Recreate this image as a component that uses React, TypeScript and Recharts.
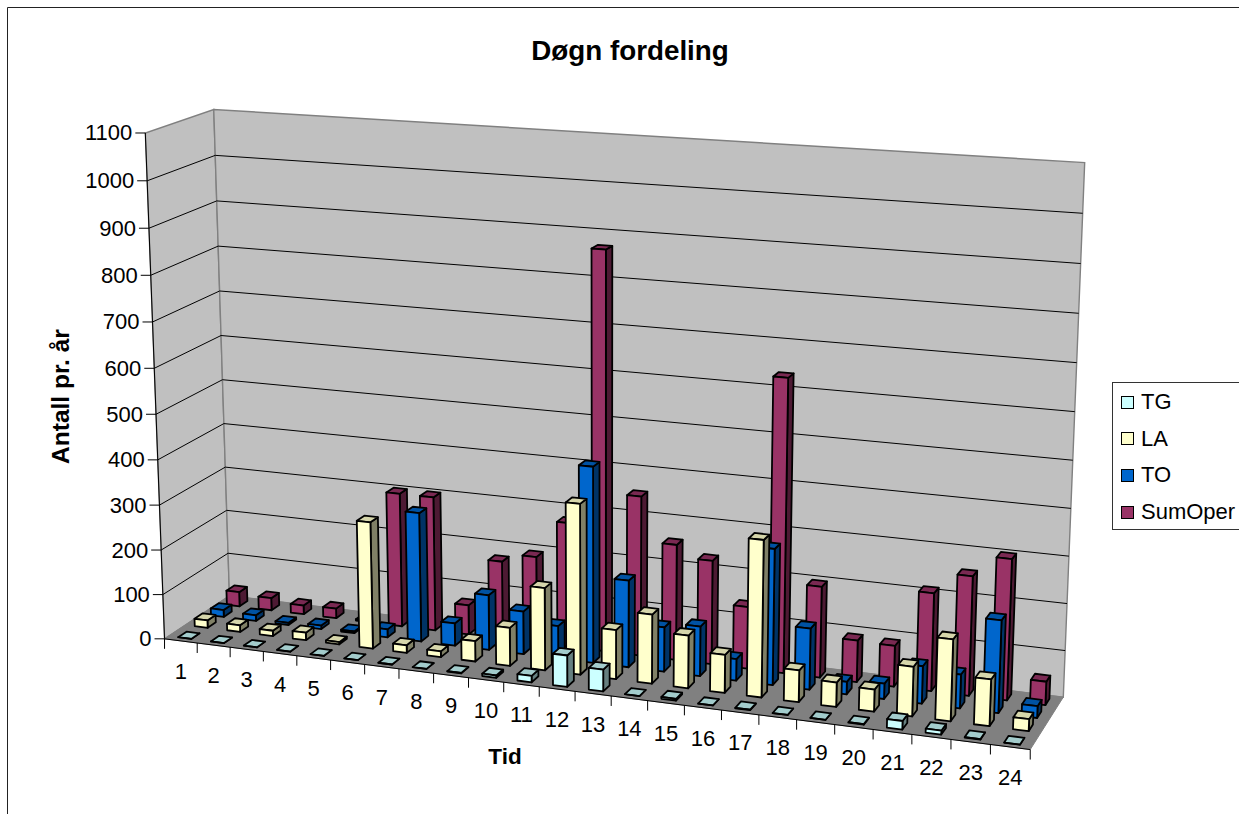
import React from 'react';
import { BarChart, Bar, XAxis, YAxis, Legend, Customized } from 'recharts';

const hours = ['1', '2', '3', '4', '5', '6', '7', '8', '9', '10', '11', '12', '13', '14', '15', '16', '17', '18', '19', '20', '21', '22', '23', '24'];
const tgValues = [0, 0, 0, 0, 0, 0, 0, 0, 1, 5, 14, 68, 47, 0, 4, 0, 1, 0, 0, 1, 18, 8, 1, 0];
const laValues = [17, 15, 12, 17, 5, 281, 17, 13, 45, 84, 180, 370, 107, 150, 114, 82, 335, 68, 52, 47, 105, 172, 98, 25];
const toValues = [16, 13, 5, 8, 4, 18, 287, 50, 122, 95, 72, 428, 190, 97, 108, 47, 293, 132, 27, 33, 80, 72, 196, 25];
const sumOperValues = [33, 28, 20, 22, 3, 300, 300, 66, 173, 192, 275, 870, 350, 253, 227, 135, 633, 197, 90, 88, 210, 255, 300, 50];
const yTicks = [0, 100, 200, 300, 400, 500, 600, 700, 800, 900, 1000, 1100];
const legendOrder = ['TG', 'LA', 'TO', 'SumOper'];

const chartData = hours.map((hour, i) => ({
  hour,
  TG: tgValues[i],
  LA: laValues[i],
  TO: toValues[i],
  SumOper: sumOperValues[i]
}));

const WIDTH = 1239;
const HEIGHT = 814;
const MAX_Y = 1100;
const FONT = '"Liberation Sans", Arial, sans-serif';
const BAR_SIZE = (WIDTH / 24) * 0.4;
const ROW_DEPTH = 0.125;

// wall corners on screen, as [u, v, w, screenX, screenY]
const CORNERS = [
  [0, 0, 0, 164.7, 638.7],
  [1, 0, 0, 1030, 750],
  [0, 1, 0, 229.3, 596],
  [1, 1, 0, 1063.5, 696.7],
  [0, 0, 1, 145.4, 132.7],
  [0, 1, 1, 213.7, 109.7],
  [1, 1, 1, 1084.7, 162.7]
];

// least squares fit of a 3x4 camera matrix with the last entry fixed at 1
function fitCamera(points: number[][]) {
  const rows: number[][] = [];
  const rhs: number[] = [];
  points.forEach(([u, v, w, sx, sy]) => {
    rows.push([u, v, w, 1, 0, 0, 0, 0, -sx * u, -sx * v, -sx * w]);
    rhs.push(sx);
    rows.push([0, 0, 0, 0, u, v, w, 1, -sy * u, -sy * v, -sy * w]);
    rhs.push(sy);
  });
  const n = 11;
  const m: number[][] = [];
  for (let i = 0; i < n; i++) {
    const line: number[] = [];
    for (let j = 0; j < n; j++) {
      line.push(rows.reduce((s, r) => s + r[i] * r[j], 0));
    }
    line.push(rows.reduce((s, r, k) => s + r[i] * rhs[k], 0));
    m.push(line);
  }
  for (let i = 0; i < n; i++) {
    let pivot = i;
    for (let k = i + 1; k < n; k++) {
      if (Math.abs(m[k][i]) > Math.abs(m[pivot][i])) pivot = k;
    }
    [m[i], m[pivot]] = [m[pivot], m[i]];
    for (let k = 0; k < n; k++) {
      if (k === i) continue;
      const f = m[k][i] / m[i][i];
      for (let j = i; j <= n; j++) m[k][j] -= f * m[i][j];
    }
  }
  return m.map((line, i) => line[n] / line[i]);
}

const CAM = fitCamera(CORNERS);

function project(u: number, v: number, w: number): [number, number] {
  const d = CAM[8] * u + CAM[9] * v + CAM[10] * w + 1;
  return [
    (CAM[0] * u + CAM[1] * v + CAM[2] * w + CAM[3]) / d,
    (CAM[4] * u + CAM[5] * v + CAM[6] * w + CAM[7]) / d
  ];
}

const poly = (pts: [number, number][]) => pts.map((p) => `${p[0].toFixed(2)},${p[1].toFixed(2)}`).join(' ');

// Bar gets a flat rectangle from the chart scales; it is lifted into the 3D box here
function makeBox(row: number, front: string, top: string, side: string) {
  return function Box3D(props: any) {
    const { x, y, width, height } = props;
    const u0 = x / WIDTH;
    const u1 = (x + width) / WIDTH;
    const w0 = 1 - (y + height) / HEIGHT;
    const w1 = 1 - y / HEIGHT;
    const v0 = (row + 0.5) / 4 - ROW_DEPTH / 2;
    const v1 = v0 + ROW_DEPTH;
    return (
      <g stroke="#000" strokeWidth={1.8} strokeLinejoin="round">
        <polygon points={poly([project(u1, v0, w0), project(u1, v1, w0), project(u1, v1, w1), project(u1, v0, w1)])} fill={side} />
        <polygon points={poly([project(u0, v0, w1), project(u1, v0, w1), project(u1, v1, w1), project(u0, v1, w1)])} fill={top} />
        <polygon points={poly([project(u0, v0, w0), project(u1, v0, w0), project(u1, v0, w1), project(u0, v0, w1)])} fill={front} />
      </g>
    );
  };
}

function Backdrop() {
  const wall = '#C0C0C0';
  const edge = '#808080';
  return (
    <g>
      <path d="M7.5 814V7.5H1239" fill="none" stroke="#222" strokeWidth={1} />
      <polygon points={poly([project(0, 0, 0), project(0, 1, 0), project(0, 1, 1), project(0, 0, 1)])} fill={wall} stroke={edge} strokeWidth={1.4} />
      <polygon points={poly([project(0, 1, 0), project(1, 1, 0), project(1, 1, 1), project(0, 1, 1)])} fill={wall} stroke={edge} strokeWidth={1.4} />
      <polygon points={poly([project(0, 0, 0), project(1, 0, 0), project(1, 1, 0), project(0, 1, 0)])} fill={edge} stroke={edge} />
      {yTicks.slice(1, -1).map((t) => {
        const w = t / MAX_Y;
        const a = project(0, 0, w);
        const b = project(0, 1, w);
        const c = project(1, 1, w);
        return <polyline key={t} points={poly([a, b, c])} fill="none" stroke="#000" strokeWidth={1} />;
      })}
      {(() => {
        const a = project(0, 0, 0);
        const b = project(1, 0, 0);
        const c = project(0, 0, 1);
        return (
          <g stroke="#000" strokeWidth={1}>
            <line x1={a[0]} y1={a[1]} x2={b[0]} y2={b[1]} />
            <line x1={a[0]} y1={a[1]} x2={c[0]} y2={c[1]} />
          </g>
        );
      })()}
      {hours.concat('').map((_, i) => {
        const p = project(i / 24, 0, 0);
        return <line key={i} x1={p[0]} y1={p[1]} x2={p[0]} y2={p[1] + 10} stroke="#000" strokeWidth={1} />;
      })}
      <text x={630} y={60} textAnchor="middle" fontFamily={FONT} fontSize={27.8} fontWeight="bold">
        Døgn fordeling
      </text>
      <text x={505} y={764} textAnchor="middle" fontFamily={FONT} fontSize={22.5} fontWeight="bold">
        Tid
      </text>
      <text transform="translate(69 396.5) rotate(-90)" textAnchor="middle" fontFamily={FONT} fontSize={24.5} fontWeight="bold">
        Antall pr. år
      </text>
    </g>
  );
}

function YTick(props: any) {
  const { y, payload } = props;
  const p = project(0, 0, 1 - y / HEIGHT);
  return (
    <g>
      <line x1={p[0] - 10} y1={p[1]} x2={p[0]} y2={p[1]} stroke="#000" strokeWidth={1} />
      <text x={p[0] - 13} y={p[1] + 7.5} textAnchor="end" fontFamily={FONT} fontSize={22} fill="#000">
        {payload.value}
      </text>
    </g>
  );
}

function XTick(props: any) {
  const { x, payload } = props;
  const p = project(x / WIDTH, 0, 0);
  return (
    <text x={p[0]} y={p[1] + 38} textAnchor="middle" fontFamily={FONT} fontSize={22} fill="#000">
      {payload.value}
    </text>
  );
}

function LegendBox(props: any) {
  const entries = legendOrder.map((name) => props.payload.find((e: any) => e.value === name)).filter(Boolean);
  return (
    <div style={{ width: 140, height: 148, boxSizing: 'border-box', border: '1px solid #333', background: '#fff', position: 'relative', fontFamily: FONT, fontSize: 22, color: '#000' }}>
      {entries.map((e: any, i: number) => (
        <div key={e.value} style={{ position: 'absolute', left: 8, top: 6 + i * 36.7, height: 26, display: 'flex', alignItems: 'center', lineHeight: '26px', whiteSpace: 'nowrap' }}>
          <span style={{ display: 'inline-block', width: 11, height: 11, border: '1.5px solid #000', background: e.color, marginRight: 7 }} />
          {e.value}
        </div>
      ))}
    </div>
  );
}

export default function App() {
  return (
    <div style={{ position: 'absolute', left: 0, top: 0, width: WIDTH, height: HEIGHT, overflow: 'hidden', background: '#fff' }}>
      <BarChart
        width={WIDTH}
        height={HEIGHT}
        data={chartData}
        margin={{ top: 0, right: 0, bottom: -1, left: -1 }}
        barSize={BAR_SIZE}
        barGap={-BAR_SIZE}
      >
        <Customized component={Backdrop} />
        <XAxis dataKey="hour" height={1} axisLine={false} tickLine={false} interval={0} tick={XTick} />
        <YAxis width={1} domain={[0, MAX_Y]} ticks={yTicks} axisLine={false} tickLine={false} interval={0} tick={YTick} />
        <Legend
          layout="horizontal"
          verticalAlign="middle"
          align="center"
          content={LegendBox}
          wrapperStyle={{ position: 'absolute', left: 1112, top: 382, width: 140, margin: 0 }}
        />
        <Bar dataKey="SumOper" name="SumOper" fill="#993366" isAnimationActive={false} shape={makeBox(3, '#993366', '#7A2952', '#4D1A33')} />
        <Bar dataKey="TO" name="TO" fill="#0066CC" isAnimationActive={false} shape={makeBox(2, '#0066CC', '#0052A3', '#003366')} />
        <Bar dataKey="LA" name="LA" fill="#FFFFCC" isAnimationActive={false} shape={makeBox(1, '#FFFFCC', '#D6D6AB', '#808066')} />
        <Bar dataKey="TG" name="TG" fill="#CCFFFF" isAnimationActive={false} shape={makeBox(0, '#CCFFFF', '#A3CCCC', '#668080')} />
      </BarChart>
    </div>
  );
}
